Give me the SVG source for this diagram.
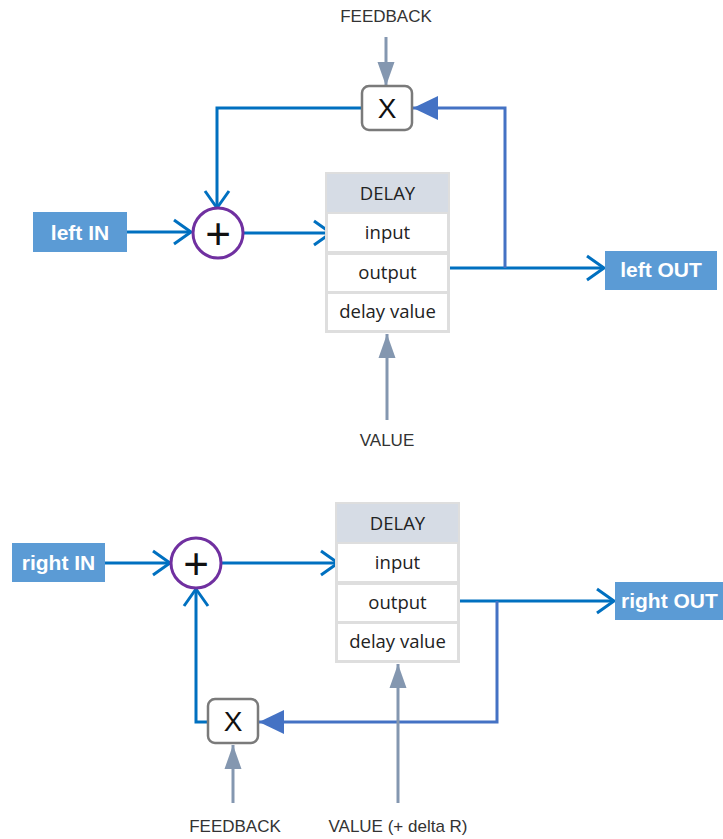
<svg xmlns="http://www.w3.org/2000/svg" width="723" height="839" viewBox="0 0 723 839">
<style>
.io{fill:#5b9bd5}
.iot{font-family:"Liberation Sans",Arial,sans-serif;font-weight:bold;font-size:21px;fill:#fff}
.lbl{font-family:"Liberation Sans",Arial,sans-serif;font-size:17px;fill:#333;text-anchor:middle}
.sum{fill:#fff;stroke:#7030a0;stroke-width:3}
.plus{font-family:"Liberation Sans",Arial,sans-serif;font-size:44px;fill:#111;text-anchor:middle}
.mul{fill:#fff;stroke:#7a7a7a;stroke-width:2.5}
.mult{font-family:"Liberation Sans",Arial,sans-serif;font-size:28px;fill:#111;text-anchor:middle}
.dout{fill:#dedede}
.dhead{fill:#d6dce5}
.drow{fill:#fff}
.dt{font-family:"Open Sans","Noto Sans",sans-serif;font-size:18.5px;fill:#222;text-anchor:middle}
.c{fill:none;stroke:#0070c0;stroke-width:3}
.fb{fill:none;stroke:#4472c4;stroke-width:3}
.g{fill:none;stroke:#8497b0;stroke-width:3}
</style>
<defs>
<marker id="chev" markerUnits="userSpaceOnUse" markerWidth="26" markerHeight="32" viewBox="-22 -16 26 32" refX="0" refY="0" orient="auto">
<path d="M-17,-12 L0,0 L-17,12" fill="none" stroke="#0070c0" stroke-width="3"/>
</marker>
<marker id="gtri" markerUnits="userSpaceOnUse" markerWidth="30" markerHeight="22" viewBox="-26 -11 30 22" refX="0" refY="0" orient="auto">
<path d="M-24,-8.5 L0,0 L-24,8.5 Z" fill="#8497b0"/>
</marker>
<marker id="btri" markerUnits="userSpaceOnUse" markerWidth="30" markerHeight="28" viewBox="-27 -14 30 28" refX="0" refY="0" orient="auto">
<path d="M-25,-12 L0,0 L-25,12 Z" fill="#4472c4"/>
</marker>
</defs>

<g id="connectors">
<!-- top -->
<path class="g" d="M386,37 V86" marker-end="url(#gtri)"/>
<path class="c" d="M362,108 H217 V208" marker-end="url(#chev)"/>
<path class="c" d="M127,232 H191" marker-end="url(#chev)"/>
<path class="c" d="M243,233 H331" marker-end="url(#chev)"/>
<path class="c" d="M450,268 H604" marker-end="url(#chev)"/>
<path class="fb" d="M505,268 V108 H413" marker-end="url(#btri)"/>
<path class="g" d="M387,420 V334" marker-end="url(#gtri)"/>
<!-- bottom -->
<path class="c" d="M105,563 H170" marker-end="url(#chev)"/>
<path class="c" d="M221,563 H338" marker-end="url(#chev)"/>
<path class="c" d="M208,722 H196 V589" marker-end="url(#chev)"/>
<path class="c" d="M460,601 H614" marker-end="url(#chev)"/>
<path class="fb" d="M497,601 V722 H259" marker-end="url(#btri)"/>
<path class="g" d="M233,803 V745" marker-end="url(#gtri)"/>
<path class="g" d="M398,803 V664" marker-end="url(#gtri)"/>
</g>

<!-- top section -->
<g id="feedback-top"><text class="lbl" x="386" y="22">FEEDBACK</text></g>
<g id="mul-top">
<rect class="mul" x="362" y="86" width="50" height="44" rx="7"/>
<text class="mult" x="387" y="118">X</text>
</g>
<g id="left-in">
<rect class="io" x="33" y="212" width="94" height="40"/>
<text class="iot" x="80" y="240" text-anchor="middle">left IN</text>
</g>
<g id="sum-top">
<circle class="sum" cx="218" cy="233" r="25"/>
<text class="plus" x="218" y="249">+</text>
</g>
<g id="delay-top">
<rect class="dout" x="325" y="172" width="125" height="161"/>
<rect class="dhead" x="327" y="174" width="121" height="38"/>
<rect class="drow" x="328" y="214" width="119" height="37"/>
<rect class="drow" x="328" y="255" width="119" height="36"/>
<rect class="drow" x="328" y="294" width="119" height="36"/>
<text class="dt" x="387.5" y="200">DELAY</text>
<text class="dt" x="387.5" y="239">input</text>
<text class="dt" x="387.5" y="279">output</text>
<text class="dt" x="387.5" y="318">delay value</text>
</g>
<g id="left-out">
<rect class="io" x="605" y="251" width="112" height="39"/>
<text class="iot" x="661" y="277" text-anchor="middle">left OUT</text>
</g>
<g id="value-top"><text class="lbl" x="387" y="446">VALUE</text></g>

<!-- bottom section -->
<g id="right-in">
<rect class="io" x="12" y="543" width="93" height="39"/>
<text class="iot" x="58.5" y="570" text-anchor="middle">right IN</text>
</g>
<g id="sum-bottom">
<circle class="sum" cx="196" cy="563" r="25"/>
<text class="plus" x="196" y="579">+</text>
</g>
<g id="delay-bottom">
<rect class="dout" x="335" y="502" width="125" height="161"/>
<rect class="dhead" x="337" y="504" width="121" height="38"/>
<rect class="drow" x="338" y="544" width="119" height="37"/>
<rect class="drow" x="338" y="585" width="119" height="36"/>
<rect class="drow" x="338" y="624" width="119" height="36"/>
<text class="dt" x="397.5" y="530">DELAY</text>
<text class="dt" x="397.5" y="569">input</text>
<text class="dt" x="397.5" y="609">output</text>
<text class="dt" x="397.5" y="648">delay value</text>
</g>
<g id="right-out">
<rect class="io" x="615" y="582" width="108" height="38"/>
<text class="iot" x="621" y="608">right OUT</text>
</g>
<g id="mul-bottom">
<rect class="mul" x="208" y="699" width="50" height="44" rx="7"/>
<text class="mult" x="233" y="731">X</text>
</g>
<g id="feedback-bottom"><text class="lbl" x="235" y="832">FEEDBACK</text></g>
<g id="value-bottom"><text class="lbl" x="398" y="832">VALUE (+ delta R)</text></g>
</svg>
